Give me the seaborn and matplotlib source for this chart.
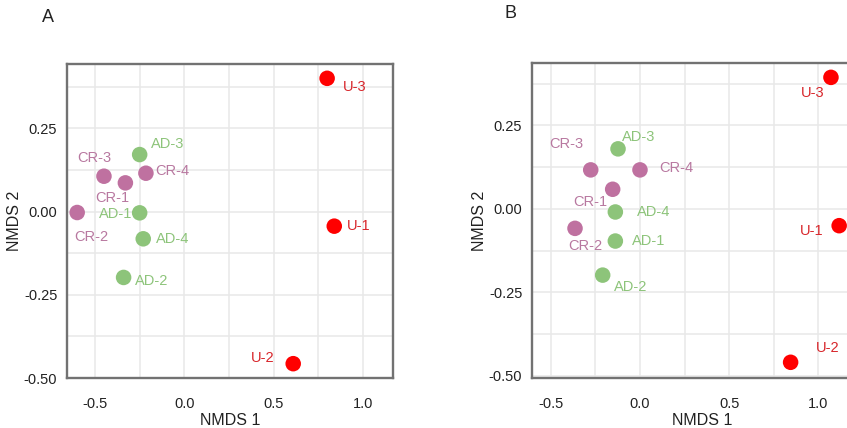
import matplotlib
matplotlib.use("Agg")
import matplotlib.pyplot as plt
from matplotlib.ticker import MultipleLocator
import seaborn as sns
import pandas as pd

# ---------------- data ----------------
samples = ["U-1", "U-2", "U-3",
           "AD-1", "AD-2", "AD-3", "AD-4",
           "CR-1", "CR-2", "CR-3", "CR-4"]
groups = ["U", "U", "U", "AD", "AD", "AD", "AD", "CR", "CR", "CR", "CR"]

# Panel A
a_nmds1 = [0.84, 0.61, 0.80, -0.25, -0.34, -0.25, -0.23, -0.33, -0.60, -0.45, -0.215]
a_nmds2 = [-0.044, -0.457, 0.40, -0.004, -0.198, 0.171, -0.082, 0.086, -0.003, 0.106, 0.115]

# Panel B
b_nmds1 = [1.116, 0.844, 1.07, -0.138, -0.209, -0.123, -0.138, -0.153, -0.364, -0.276, 0.0]
b_nmds2 = [-0.05, -0.459, 0.394, -0.096, -0.198, 0.18, -0.009, 0.059, -0.058, 0.117, 0.117]

x_ticks = [-0.5, 0.0, 0.5, 1.0]
y_ticks = [-0.50, -0.25, 0.00, 0.25]

# ---------------- style ----------------
sns.set_theme(style="white")
plt.rcParams["font.family"] = ["Liberation Sans", "DejaVu Sans"]

point_colors = {"U": "#FF0000", "AD": "#8DC47A", "CR": "#BF71A0"}
text_colors = {"U": "#D8262B", "AD": "#8DC47A", "CR": "#B878A0"}

# label offsets in pixels (dx, dy up)
offs_a = {"U-3": (28, -9), "U-1": (24, 0), "U-2": (-31, 6), "AD-3": (28, 11),
          "CR-3": (-10, 18), "CR-4": (26, 2), "CR-1": (-13, -15), "AD-1": (-24, -1),
          "CR-2": (14, -24), "AD-4": (29, 0), "AD-2": (28, -4)}
offs_b = {"U-3": (-18, -16), "U-1": (-27, -5), "U-2": (37, 14), "AD-3": (21, 12),
          "CR-3": (-24, 26), "CR-4": (36, 2), "CR-1": (-22, -13), "AD-4": (38, 0),
          "CR-2": (10, -18), "AD-1": (33, 0), "AD-2": (28, -12)}

W, H = 847, 428
fig = plt.figure(figsize=(W / 100, H / 100), dpi=100)

axA = fig.add_axes([67 / W, (H - 378) / H, 326 / W, 314 / H])
axB = fig.add_axes([532 / W, (H - 378) / H, 340 / W, 315 / H])


def draw(ax, xs, ys, offs, xlim, ylim):
    df = pd.DataFrame({"sample": samples, "group": groups, "NMDS 1": xs, "NMDS 2": ys})
    sns.scatterplot(data=df, x="NMDS 1", y="NMDS 2", hue="group", palette=point_colors,
                    s=125, edgecolor="none", legend=False, ax=ax, zorder=3, clip_on=False)
    for _, r in df.iterrows():
        dx, dy = offs[r["sample"]]
        ax.annotate(r["sample"], (r["NMDS 1"], r["NMDS 2"]), xytext=(dx, dy),
                    textcoords="offset pixels", ha="center", va="center",
                    fontsize=10.5, color=text_colors[r["group"]], zorder=4)
    ax.set_xlim(*xlim)
    ax.set_ylim(*ylim)
    ax.set_xticks(x_ticks)
    ax.set_yticks(y_ticks)
    ax.set_xticklabels([f"{v:.1f}" for v in x_ticks])
    ax.set_yticklabels([f"{v:.2f}" for v in y_ticks])
    ax.xaxis.set_minor_locator(MultipleLocator(0.25))
    ax.yaxis.set_minor_locator(MultipleLocator(0.125))
    ax.grid(True, which="both", color="#E8E8E8", linewidth=1.1)
    ax.set_axisbelow(True)
    ax.tick_params(axis="both", which="both", length=0, labelsize=10.5, colors="#222222")
    ax.tick_params(axis="x", pad=14)
    ax.tick_params(axis="y", pad=7)
    for sp in ax.spines.values():
        sp.set_color("#727272")
        sp.set_linewidth(1.7)
    ax.set_xlabel("NMDS 1", fontsize=11.5, color="#222222", labelpad=1)
    ax.set_ylabel("NMDS 2", fontsize=11.5, color="#222222", labelpad=1)
    ax.set_facecolor("white")


draw(axA, a_nmds1, a_nmds2, offs_a, (-0.657, 1.169), (-0.5, 0.443))
draw(axB, b_nmds1, b_nmds2, offs_b, (-0.605, 1.30), (-0.506, 0.437))

fig.text(48 / W, 1 - 18 / H, "A", fontsize=13, color="#222222", ha="center", va="center")
fig.text(510 / W, 1 - 14 / H, "B", fontsize=13, color="#222222", ha="center", va="center")

fig.savefig("out.png", dpi=100)
